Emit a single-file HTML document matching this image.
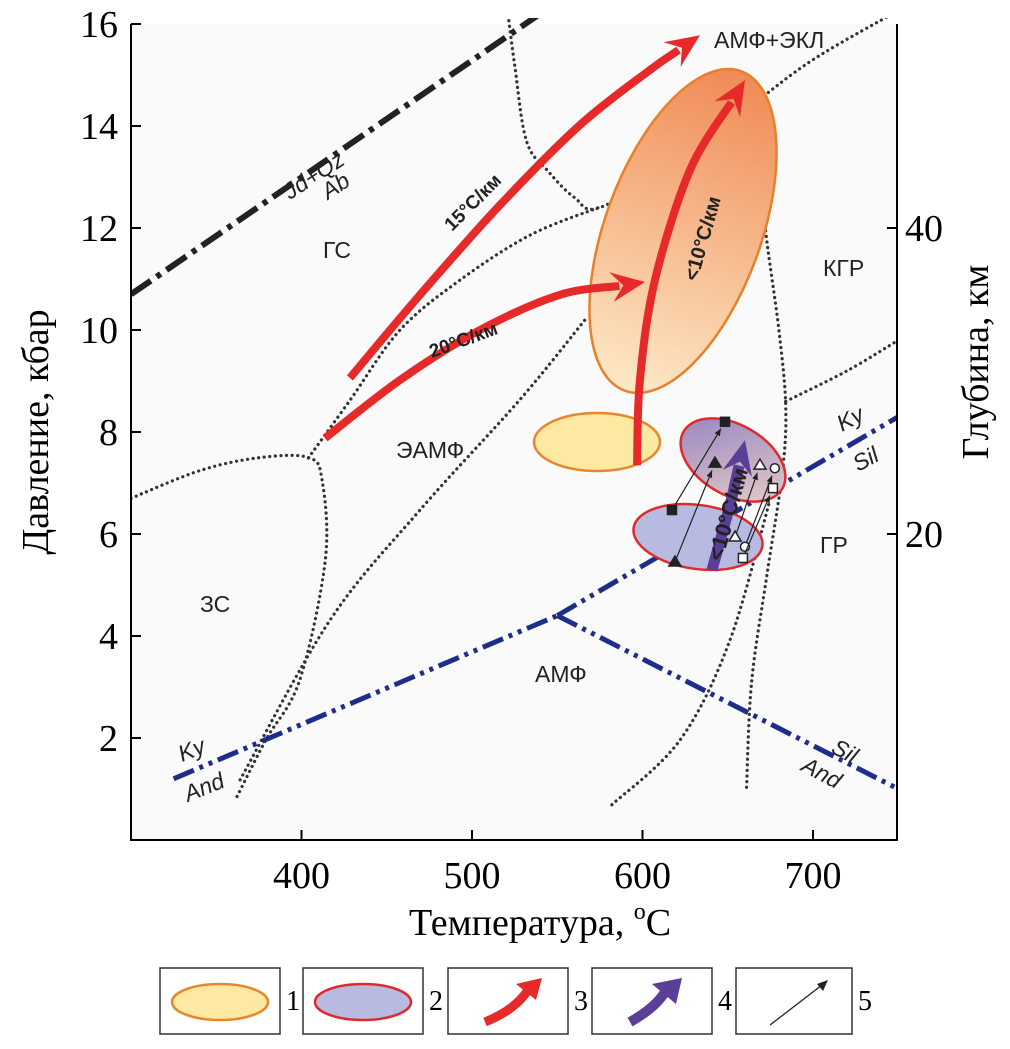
<!DOCTYPE html>
<html><head><meta charset="utf-8"><style>
body{margin:0;background:#fff;}
svg{display:block;font-family:"Liberation Sans",sans-serif;}
.ser{font-family:"Liberation Serif",serif;}
</style></head><body>
<svg id="c" width="1010" height="1049" viewBox="0 0 1010 1049">
<defs>
<linearGradient id="gO" x1="0" y1="0" x2="0" y2="1"><stop offset="0" stop-color="#f08a55"/><stop offset="1" stop-color="#fde9c6"/></linearGradient>
<linearGradient id="gP" x1="0" y1="0" x2="1" y2="0.6"><stop offset="0" stop-color="#9382bf"/><stop offset="1" stop-color="#dcc4c8"/></linearGradient>
<clipPath id="cl"><rect x="131" y="18" width="766" height="822"/></clipPath>
</defs>
<rect x="131" y="24" width="766" height="816" fill="#fafafa"/>
<g id="g"></g>
</svg>
<script>
const xTicks=[400,500,600,700];
const yTicks=[2,4,6,8,10,12,14,16];
const depthTicks=[20,40];
const depthKbar=[6,12];
const jdLine=[[300,10.7],[553,16.5]];
const kyAnd=[[325,1.2],[550,4.4]];
const kySil=[[550,4.4],[750,8.3]];
const silAnd=[[550,4.4],[750,1.0]];
const bZS=[[300,6.7],[341,7.25],[376,7.5],[404,7.5],[412,7.07],[414,5.5],[399,3.14],[379,1.96],[362,0.84]];
const bEAMF=[[404,7.49],[428.6,8.63],[457.8,10.0],[493,10.98],[534,11.86],[575,12.41]];
const bAMF=[[364,1.18],[416.7,4.31],[469.5,6.47],[528,8.63],[566.3,10.2]];
const bTop=[[520,16.5],[525,15.2],[532,13.7],[545,13.1],[560,12.6],[575,12.4],[620,13.3],[660,14.3],[700,15.3],[752,16.3]];
const bKGR=[[660,14.3],[668,13.6],[672,12.0],[680,10.0],[684,8.5],[682,7.2],[673,5.2],[664,3.1],[661,1.0]];
const bGR=[[684,8.6],[720,9.2],[750,9.8]];
const bLow=[[582,0.69],[622,1.96],[651.3,3.92],[674.8,6.67]];
const gradients=[
 {label:"15°C/км",pts:[[428.4,9.06],[469.5,10.69],[516.4,12.45],[563.3,14.02],[604.4,15.1],[633.7,15.78]]},
 {label:"20°C/км",pts:[[413.8,7.88],[457.8,9.02],[504.7,10.0],[551.6,10.69],[601.5,10.94]]},
 {label:"<10°C/км",pts:[[596.8,7.35],[598.5,9.02],[607.3,10.98],[627.9,13.14],[660.1,14.9]]}
];
const purpleArrow=[[640.7,5.29],[651.3,6.57],[660.1,7.84]];
const pathsStart=[[617.3,6.47],[619,5.45],[654.3,5.94],[660.1,5.75],[658.9,5.53]];
const pathsEnd=[[648.4,8.2],[642.5,7.39],[668.9,7.35],[677.6,7.29],[676.5,6.9]];
const markerKinds=['sq','tri','otri','ocirc','osq'];
const x=T=>131+(T-300)*1.705;
const y=P=>840-P*51;
const g=document.getElementById('g');
const NS='http://www.w3.org/2000/svg';
function mk(t,a,txt){const e=document.createElementNS(NS,t);for(const k in a)e.setAttribute(k,a[k]);if(txt!==undefined)e.textContent=txt;g.appendChild(e);return e;}
function pl(pts){return pts.map(p=>x(p[0]).toFixed(1)+','+y(p[1]).toFixed(1)).join(' ');}
function cr(pts){const P=pts.map(p=>[x(p[0]),y(p[1])]);let d='M'+P[0][0]+','+P[0][1];
 for(let i=0;i<P.length-1;i++){const p0=P[i-1]||P[i],p1=P[i],p2=P[i+1],p3=P[i+2]||P[i+1];
 d+=` C${p1[0]+(p2[0]-p0[0])/6},${p1[1]+(p2[1]-p0[1])/6} ${p2[0]-(p3[0]-p1[0])/6},${p2[1]-(p3[1]-p1[1])/6} ${p2[0]},${p2[1]}`;}return d;}
[bZS,bEAMF,bAMF,bTop,bKGR,bGR,bLow].forEach(b=>{
 const e=mk('path',{d:cr(b),fill:'none',stroke:'#333','stroke-width':3.2,'stroke-linecap':'round','stroke-dasharray':'0.1 5.5','clip-path':'url(#cl)'});
 
 
});
let e=mk('polyline',{points:pl(jdLine),fill:'none',stroke:'#222','stroke-width':6,'stroke-dasharray':'24 7 5 7','clip-path':'url(#cl)'});


[kyAnd,kySil,silAnd].forEach(b=>{
 const e=mk('polyline',{points:pl(b),fill:'none',stroke:'#1f2d8a','stroke-width':5,'stroke-dasharray':'22 6 4 6 4 6','clip-path':'url(#cl)'});
 
 
});
function ell(cx,cy,rx,ry,rot,fill,stroke,name){const e=mk('ellipse',{cx,cy,rx,ry,transform:`rotate(${rot} ${cx} ${cy})`,fill,stroke,'stroke-width':2.5});}
ell(683,231,78,170,20,'url(#gO)','#e8802a','field-eclogite-amphibolite');
ell(597,442,63,29,0,'#fde9a2','#e8862e','field-yellow');
ell(698,537,65,32,8,'#b7bbe2','#e02a2a','field-lower-blue');
ell(733,460,57,35,30,'url(#gP)','#e02a2a','field-upper-purple');
function marker(X,Y,k){let e;
 if(k=='sq'||k=='osq')e=mk('rect',{x:X-4.5,y:Y-4.5,width:9,height:9,fill:k=='sq'?'#222':'#fff',stroke:'#222','stroke-width':1.5});
 else if(k=='tri'||k=='otri')e=mk('polygon',{points:`${X},${Y-6} ${X+6},${Y+4} ${X-6},${Y+4}`,fill:k=='tri'?'#222':'#fff',stroke:'#222','stroke-width':1.5});
 else e=mk('circle',{cx:X,cy:Y,r:4.5,fill:'#fff',stroke:'#222','stroke-width':1.5});
 
 }
pathsStart.forEach((s,i)=>{
 const f=pathsEnd[i];
 const x1=x(s[0]),y1=y(s[1]),x2=x(f[0]),y2=y(f[1]);
 const ang=Math.atan2(y2-y1,x2-x1);
 const ln=mk('line',{x1,y1,x2:x2-Math.cos(ang)*8,y2:y2-Math.sin(ang)*8,stroke:'#222','stroke-width':1.2});
 
 
 const hx=x2-Math.cos(ang)*8,hy=y2-Math.sin(ang)*8;
 mk('polygon',{points:`${hx},${hy} ${hx-Math.cos(ang)*7+Math.sin(ang)*3},${hy-Math.sin(ang)*7-Math.cos(ang)*3} ${hx-Math.cos(ang)*7-Math.sin(ang)*3},${hy-Math.sin(ang)*7+Math.cos(ang)*3}`,fill:'#222'});
 marker(x1,y1,markerKinds[i]);marker(x2,y2,markerKinds[i]);
});
function arrow(pts,col,w,name){
 const n=pts.length,a=pts[n-2],b=pts[n-1];
 const ax=x(a[0]),ay=y(a[1]),bx=x(b[0]),by=y(b[1]);
 const ang=Math.atan2(by-ay,bx-ax);
 const ex=bx-Math.cos(ang)*26,ey=by-Math.sin(ang)*26;
 const shaft=pts.slice(0,-1).concat([[ (ex-131)/1.705+300,(840-ey)/51 ]]);
 const ln=mk('path',{d:cr(shaft),fill:'none',stroke:col,'stroke-width':w,'stroke-linejoin':'round'});
 
 
 const px=Math.cos(ang+Math.PI/2),py=Math.sin(ang+Math.PI/2);
 const bb=-Math.cos(ang)*8,bs=-Math.sin(ang)*8;
 const h=mk('polygon',{points:`${bx},${by} ${ex+bb+px*15},${ey+bs+py*15} ${ex+Math.cos(ang)*4},${ey+Math.sin(ang)*4} ${ex+bb-px*15},${ey+bs-py*15}`,fill:col});
 
 
}
gradients.forEach((gr,i)=>arrow(gr.pts,'#e62a2a',8,'gradient-arrow-'+i));
arrow(purpleArrow,'#5a3f96',11,'purple-arrow');
function txt(X,Y,s,o){return mk('text',Object.assign({x:X,y:Y,'font-size':22,fill:'#222'},o||{}),s);}
let t;
t=txt(452,232,gradients[0].label,{'font-weight':'bold','font-size':19,transform:'rotate(-45 452 232)'});
t=txt(432,358,gradients[1].label,{'font-weight':'bold','font-size':19,transform:'rotate(-20 432 358)'});
t=txt(697,282,gradients[2].label,{'font-weight':'bold','font-size':20,transform:'rotate(-74 697 282)'});
t=txt(722,562,'<10°C/км',{'font-weight':'bold','font-size':22,transform:'rotate(-74 722 562)'});
const regions=[['АМФ+ЭКЛ',714,48],['ГС',323,258],['КГР',823,276],['ЭАМФ',396,458],['ГР',820,553],['ЗС',200,612],['АМФ',535,682]];
regions.forEach(r=>{const e=txt(r[1],r[2],r[0],{'font-size':23});});
const mins=[['Jd+Qz',290,200,-33],['Ab',328,200,-33],['Ky',182,762,-22],['And',188,802,-22],['Ky',842,432,-28],['Sil',858,472,-28],['Sil',830,752,28],['And',800,770,28]];
mins.forEach(m=>{const e=txt(m[1],m[2],m[0],{'font-style':'italic','font-size':23,transform:`rotate(${m[3]} ${m[1]} ${m[2]})`});});
e=mk('path',{d:'M131,24 V840 H897 V24',fill:'none',stroke:'#000','stroke-width':2});


xTicks.forEach(v=>{mk('line',{x1:x(v),x2:x(v),y1:840,y2:830,stroke:'#000','stroke-width':2});const e=txt(x(v),888,v,{'text-anchor':'middle','font-size':38,class:'ser',fill:'#000'});});
yTicks.forEach(v=>{mk('line',{x1:131,x2:141,y1:y(v),y2:y(v),stroke:'#000','stroke-width':2});const e=txt(118,y(v)+13,v,{'text-anchor':'end','font-size':38,class:'ser',fill:'#000'});});
depthTicks.forEach((v,i)=>{const yy=y(depthKbar[i]);mk('line',{x1:887,x2:897,y1:yy,y2:yy,stroke:'#000','stroke-width':2});const e=txt(905,yy+13,v,{'font-size':38,class:'ser',fill:'#000'});});
t=mk('text',{x:540,y:935,'text-anchor':'middle','font-size':38,class:'ser',fill:'#000'});


t.innerHTML='Температура, <tspan dy="-16" font-size="24">o</tspan><tspan dy="16">C</tspan>';
t=txt(48,432,'Давление, кбар',{'text-anchor':'middle','font-size':38,class:'ser',fill:'#000',transform:'rotate(-90 48 432)'});
t=txt(988,362,'Глубина,  км',{'text-anchor':'middle','font-size':38,class:'ser',fill:'#000',transform:'rotate(-90 988 362)'});
const lx=[160,303,448,592,736];
lx.forEach((L,i)=>{
 const b=mk('rect',{x:L,y:968,width:i==4?116:120,height:66,fill:'#fff',stroke:'#333','stroke-width':1.5});
 
 
 const n=txt(L+(i==4?122:126),1010,String(i+1),{'font-size':28,class:'ser',fill:'#000'});
 
 
});
mk('ellipse',{cx:220,cy:1002,rx:48,ry:18,fill:'#fde9a2',stroke:'#e8862e','stroke-width':2.5});
mk('ellipse',{cx:363,cy:1002,rx:48,ry:18,fill:'#b7bbe2',stroke:'#e02a2a','stroke-width':2.5});
mk('path',{d:'M485,1022 Q515,1010 528,990',fill:'none',stroke:'#e62a2a','stroke-width':9});
mk('polygon',{points:'542,978 516,984 536,1000',fill:'#e62a2a'});
mk('path',{d:'M630,1022 Q655,1008 665,992',fill:'none',stroke:'#5a3f96','stroke-width':10});
mk('polygon',{points:'682,978 652,984 676,1004',fill:'#5a3f96'});
mk('line',{x1:770,y1:1025,x2:822,y2:985,stroke:'#222','stroke-width':1.3});
mk('polygon',{points:'828,980 817,984 823,991',fill:'#222'});
</script>
</body></html>
